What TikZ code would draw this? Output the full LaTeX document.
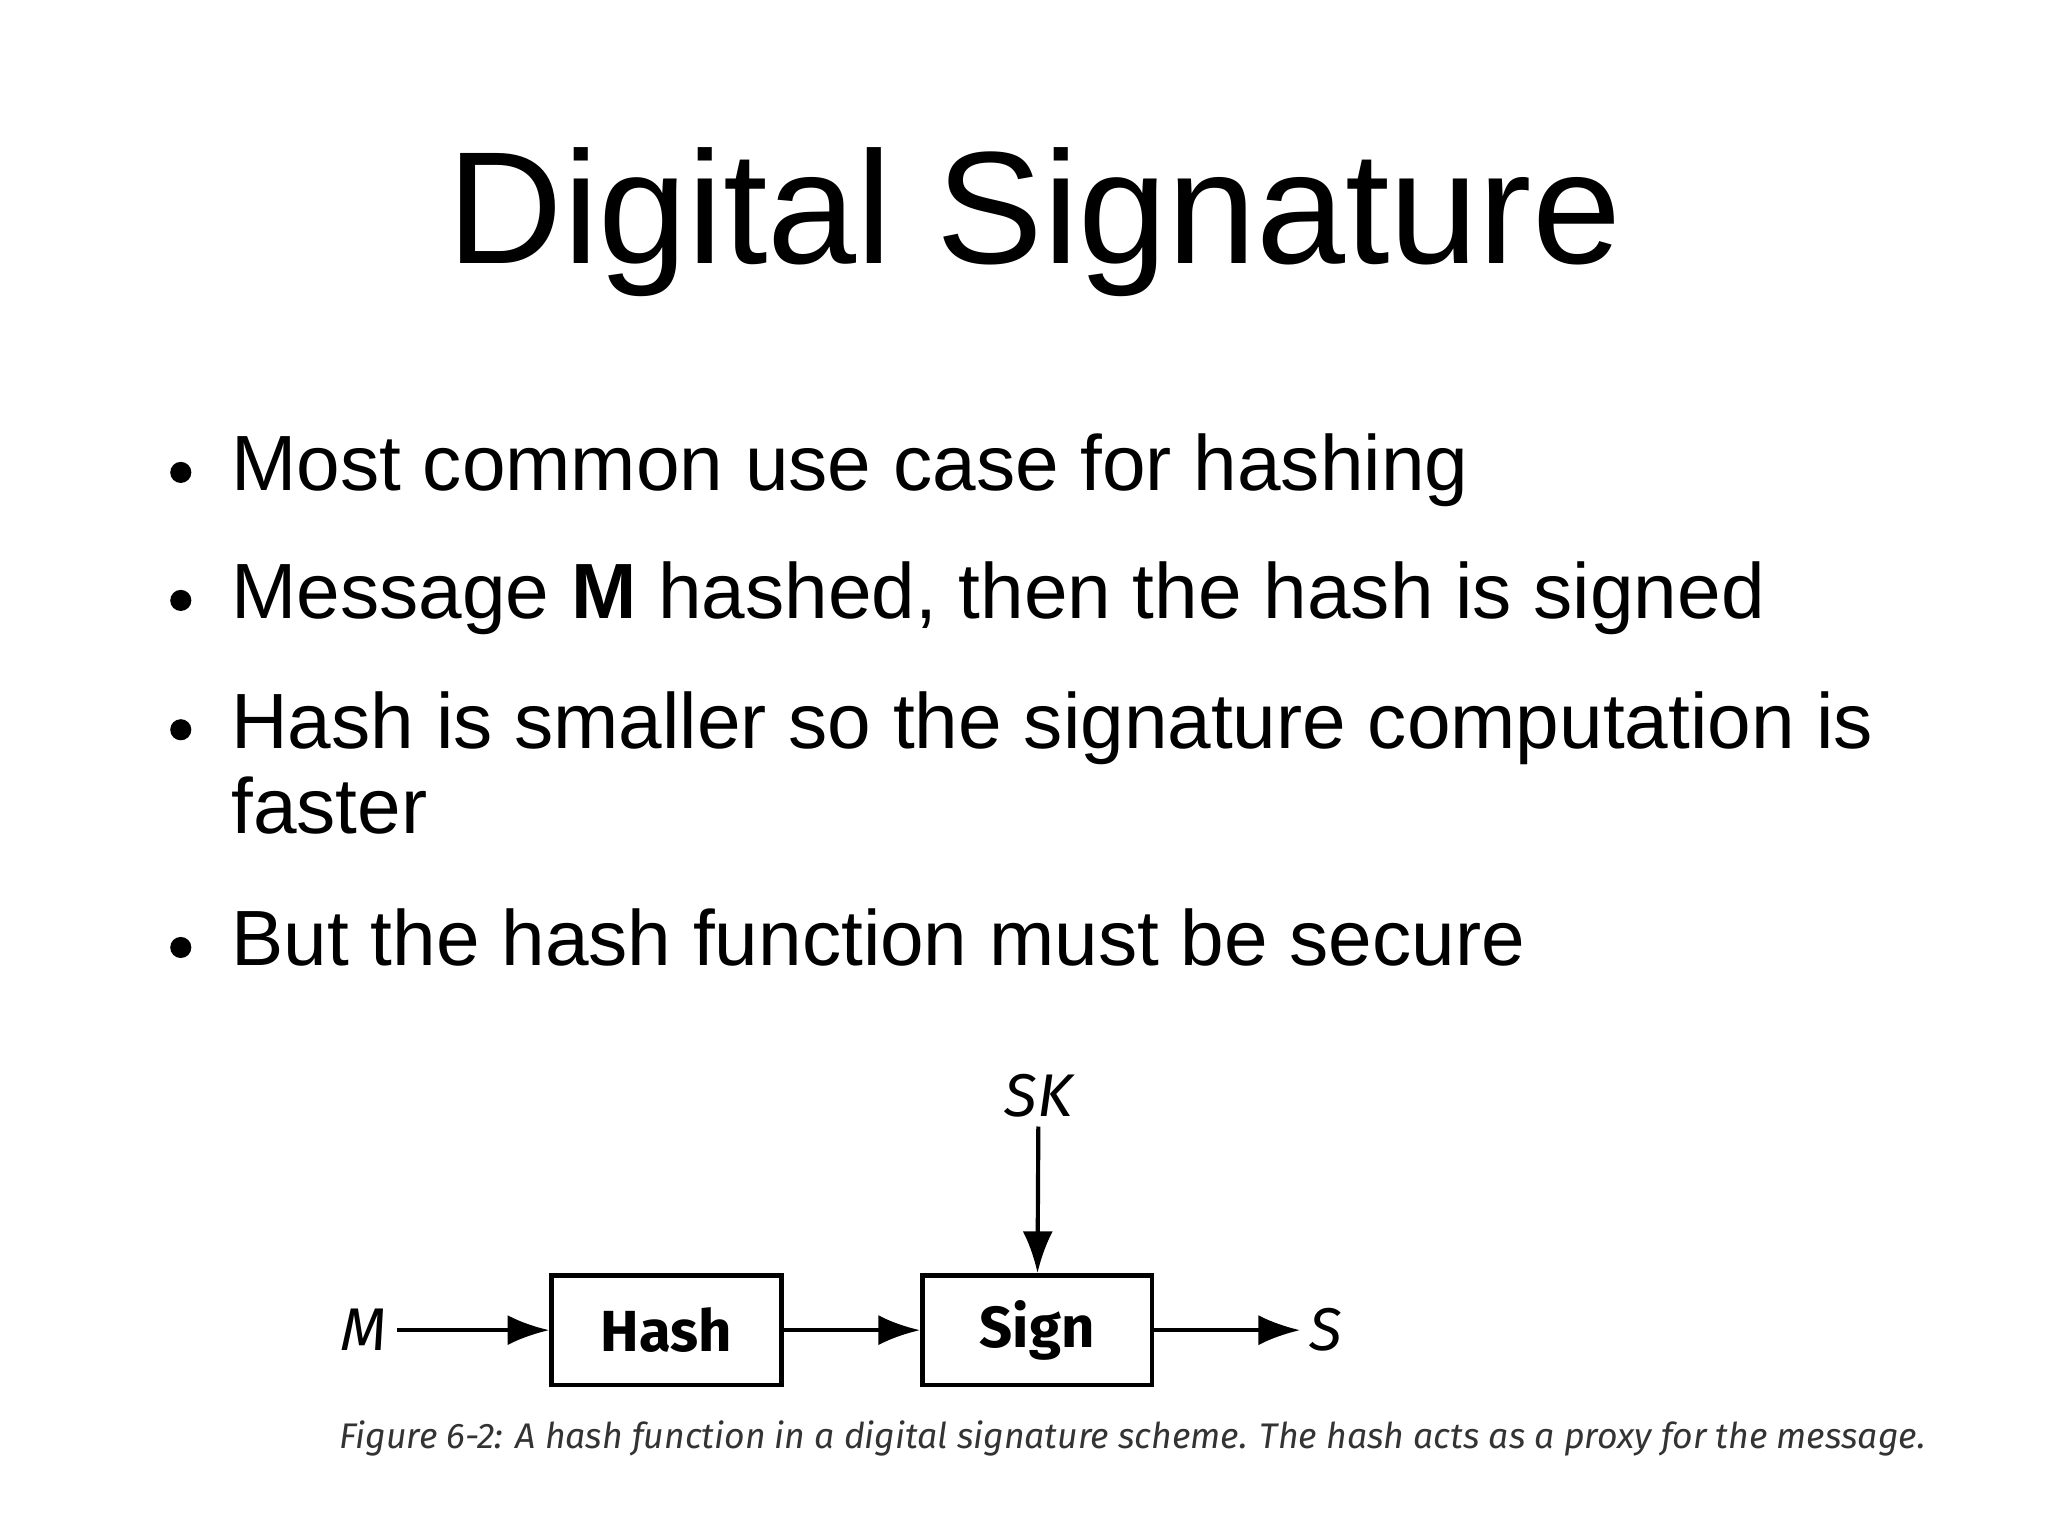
\documentclass[tikz,border=0pt]{standalone}
\usepackage{fontspec}
\setmainfont{Liberation Sans}
\newfontfamily\diag{Fira Sans}
\usetikzlibrary{arrows.meta}
\begin{document}
\begin{tikzpicture}[x=0.02cm,y=-0.02cm,
  bul/.style={anchor=base west,inner sep=0,font=\fontsize{33.8}{38}\selectfont},
  blk/.style={draw,line width=2pt,minimum width=3.48cm,minimum height=1.66cm,inner sep=0,font=\diag\bfseries\fontsize{25}{28}\selectfont},
  lbl/.style={inner sep=4pt,font=\diag\itshape\fontsize{26}{28}\selectfont},
  arr/.style={line width=1.8pt,-{Latex[length=18pt,width=13pt]}}]
\useasboundingbox (0,0) rectangle (1552,1164);
\node[anchor=base,inner sep=0,font=\fontsize{69}{76}\selectfont] (title) at (784,200) {Digital Signature};
\foreach \n/\y/\t in {b1/372/Most common use case for hashing,
  b2/469/{Message \textbf{M} hashed, then the hash is signed},
  b3/567/Hash is smaller so the signature computation is,
  b3b/632/faster,
  b4/732/But the hash function must be secure}{
  \node[bul] (\n) at (175,\y) {\t};}
\foreach \y in {372,469,567,732}{\fill (137,{\y-14}) circle (8);}
\node[blk] (hash) at (505,1008) {Hash};
\node[blk] (sign) at (786,1008) {Sign};
\node[lbl] (m) at (276,1008) {M};
\node[lbl] (s) at (1005,1008) {S};
\node[lbl] (sk) at (787,830) {SK};
\draw[arr] (m) -- (hash);
\draw[arr] (hash) -- (sign);
\draw[arr] (sign) -- (s);
\draw[arr] (sk) -- (sign);
\node[anchor=base west,inner sep=0,text=black!80] (cap) at (257,1098) {\resizebox{24.04cm}{!}{\diag\itshape Figure 6-2: A hash function in a digital signature scheme. The hash acts as a proxy for the message.}};
\end{tikzpicture}
\end{document}
